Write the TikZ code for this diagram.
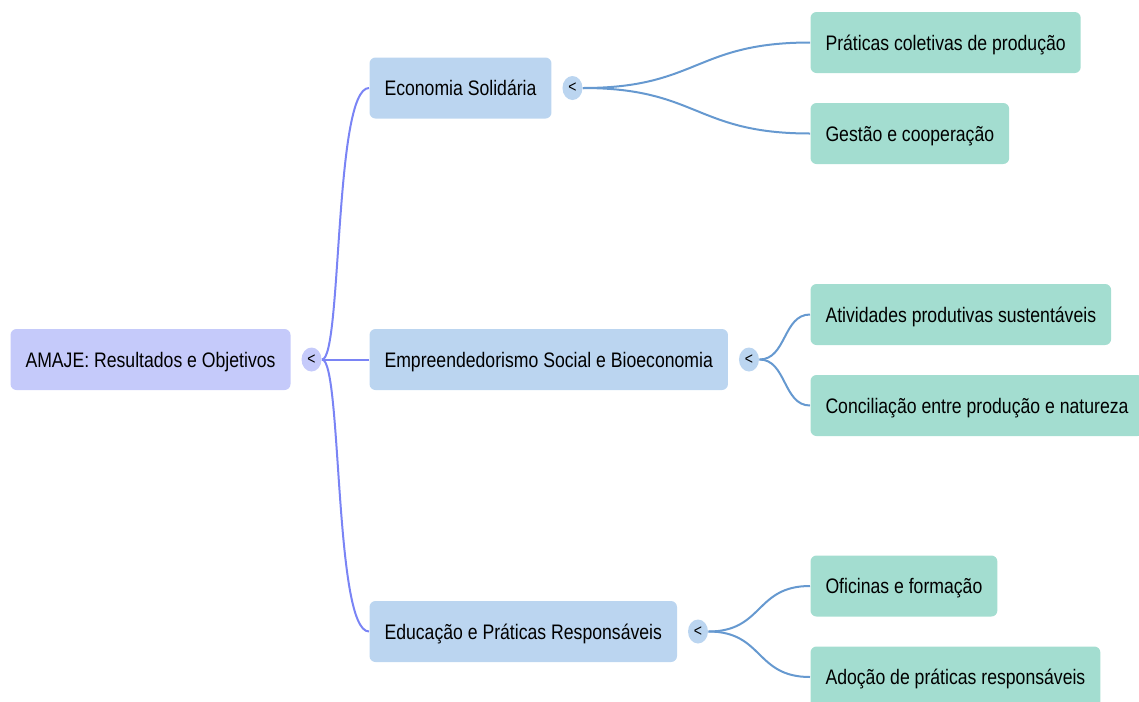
\documentclass[tikz,border=0pt]{standalone}
\usepackage{fontspec}
\setmainfont[FakeStretch=0.84]{Liberation Sans}
\usetikzlibrary{positioning,shapes.geometric}

\definecolor{rootfill}{RGB}{197,202,250}
\definecolor{branchfill}{RGB}{187,213,240}
\definecolor{leaffill}{RGB}{163,221,208}
\definecolor{rootline}{RGB}{122,132,245}
\definecolor{branchline}{RGB}{102,153,208}

\tikzset{every picture/.style={line width=0.75pt}}
\tikzset{
  topic/.style={rounded corners=4.5pt, minimum height=45.75pt, inner xsep=11.25pt, anchor=west,
    text height=11.3pt, text depth=0pt, font=\fontsize{15.75}{19}\selectfont},
  roottopic/.style={topic, fill=rootfill},
  maintopic/.style={topic, fill=branchfill},
  subtopic/.style={topic, fill=leaffill},
  fold/.style={ellipse, minimum width=15pt, minimum height=18pt, inner sep=0pt,
    font=\fontsize{12.5}{13}\selectfont},
  rootlink/.style={rootline, line width=1.5pt},
  branchlink/.style={branchline, line width=1.5pt},
}

\begin{document}
\begin{tikzpicture}[x=0.75pt,y=0.75pt,yscale=-1,xscale=1]
\useasboundingbox (0,0) rectangle (1139,701);

%Root
\node [roottopic] (root) at (10,359.5) {AMAJE: Resultados e Objetivos};
\node [fold, fill=rootfill, right=7.5pt of root] (c0) {<};

%Main topics
\node [maintopic] (eco) at (369,88) {Economia Solidária};
\node [maintopic] (emp) at (369,359.5) {Empreendedorismo Social e Bioeconomia};
\node [maintopic] (edu) at (369,631.5) {Educação e Práticas Responsáveis};
\node [fold, fill=branchfill, right=7.5pt of eco] (c1) {<};
\node [fold, fill=branchfill, right=7.5pt of emp] (c2) {<};
\node [fold, fill=branchfill, right=7.5pt of edu] (c3) {<};

%Subtopics
\node [subtopic] (pra) at (810,42.5) {Práticas coletivas de produção};
\node [subtopic] (ges) at (810,133.5) {Gestão e cooperação};
\node [subtopic] (ati) at (810,314.5) {Atividades produtivas sustentáveis};
\node [subtopic] (con) at (810,405.5) {Conciliação entre produção e natureza};
\node [subtopic] (ofi) at (810,586) {Oficinas e formação};
\node [subtopic] (ado) at (810,677) {Adoção de práticas responsáveis};

%Links from root
\draw [rootlink] (c0.east) .. controls +(20,0) and +(-35,0) .. (eco.west);
\draw [rootlink] (c0.east) -- (emp.west);
\draw [rootlink] (c0.east) .. controls +(20,0) and +(-35,0) .. (edu.west);

%Links to subtopics
\draw [branchlink] (c1.east) .. controls +(115,0) and +(-115,0) .. (pra.west);
\draw [branchlink] (c1.east) .. controls +(115,0) and +(-115,0) .. (ges.west);
\draw [branchlink] (c2.east) .. controls +(27,0) and +(-27,0) .. (ati.west);
\draw [branchlink] (c2.east) .. controls +(27,0) and +(-27,0) .. (con.west);
\draw [branchlink] (c3.east) .. controls +(55,0) and +(-55,0) .. (ofi.west);
\draw [branchlink] (c3.east) .. controls +(55,0) and +(-55,0) .. (ado.west);

\end{tikzpicture}
\end{document}
